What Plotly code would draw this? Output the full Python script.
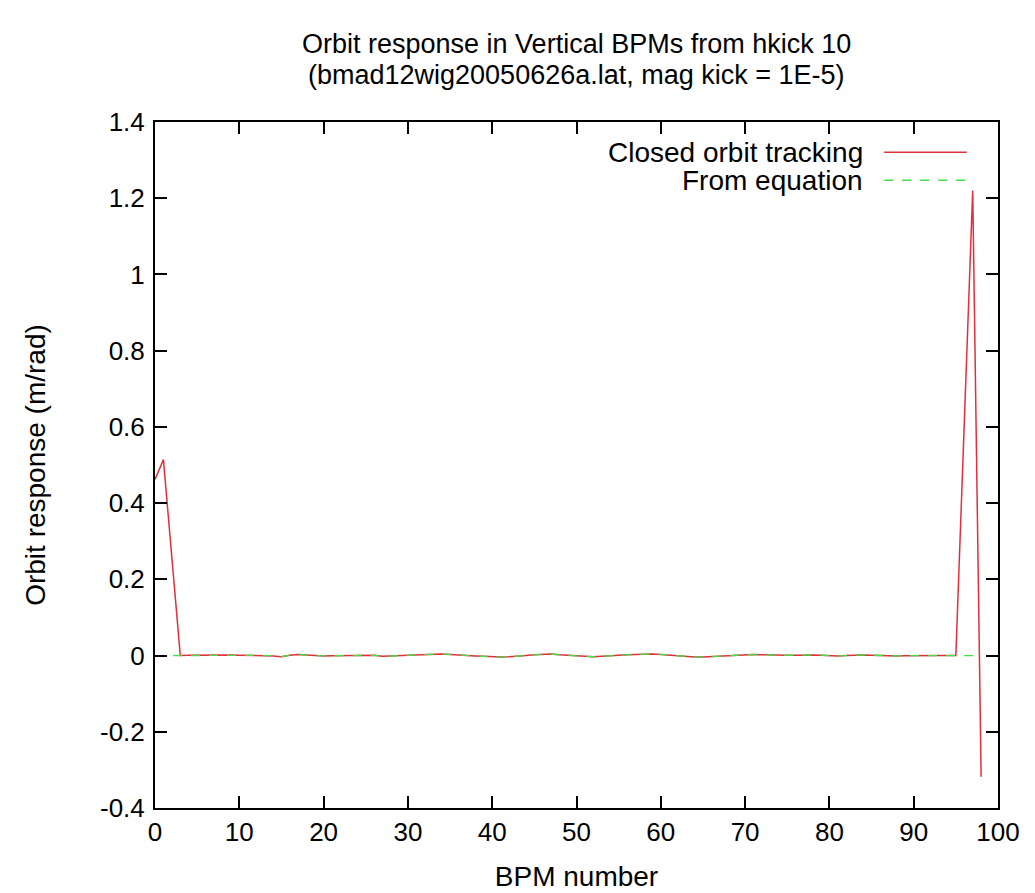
import plotly.graph_objects as go

bpm = list(range(0, 99))

closed_orbit = [
    0.462, 0.514, 0.257, 0.0, 0.0005, 0.001, 0.0, 0.0005, 0.001, 0.0015,
    0.001, 0.0005, 0.0, 0.0005, -0.001, -0.003, 0.001, 0.003, 0.0015, 0.0,
    -0.001, -0.0005, 0.0, 0.0005, 0.001, 0.0015, 0.0005, -0.002, -0.001, 0.0005,
    0.001, 0.002, 0.003, 0.004, 0.004, 0.003, 0.001, 0.0, -0.001, -0.002,
    -0.003, -0.004, -0.003, -0.002, 0.0, 0.002, 0.003, 0.004, 0.002, 0.001,
    0.0, -0.002, -0.003, -0.002, 0.0, 0.001, 0.002, 0.003, 0.004, 0.004,
    0.003, 0.001, -0.001, -0.003, -0.004, -0.004, -0.003, -0.002, 0.0, 0.001,
    0.002, 0.003, 0.002, 0.001, 0.0, 0.0005, 0.001, 0.002, 0.0015, 0.001,
    0.0, -0.001, 0.0, 0.001, 0.0015, 0.001, 0.0, -0.0005, -0.001, -0.0005,
    0.0, 0.0, 0.0, 0.0, 0.0, 0.0, 0.61, 1.22, -0.318,
]

from_equation = [
    0.0, 0.0, 0.0, 0.0, 0.0005, 0.001, 0.0, 0.0005, 0.001, 0.0015,
    0.001, 0.0005, 0.0, 0.0005, -0.001, -0.003, 0.001, 0.003, 0.0015, 0.0,
    -0.001, -0.0005, 0.0, 0.0005, 0.001, 0.0015, 0.0005, -0.002, -0.001, 0.0005,
    0.001, 0.002, 0.003, 0.004, 0.004, 0.003, 0.001, 0.0, -0.001, -0.002,
    -0.003, -0.004, -0.003, -0.002, 0.0, 0.002, 0.003, 0.004, 0.002, 0.001,
    0.0, -0.002, -0.003, -0.002, 0.0, 0.001, 0.002, 0.003, 0.004, 0.004,
    0.003, 0.001, -0.001, -0.003, -0.004, -0.004, -0.003, -0.002, 0.0, 0.001,
    0.002, 0.003, 0.002, 0.001, 0.0, 0.0005, 0.001, 0.002, 0.0015, 0.001,
    0.0, -0.001, 0.0, 0.001, 0.0015, 0.001, 0.0, -0.0005, -0.001, -0.0005,
    0.0, 0.0, 0.0, 0.0, 0.0, 0.0, 0.0, 0.0, 0.0,
]

legend_labels = ["Closed orbit tracking", "From equation"]
title_lines = ["Orbit response in Vertical BPMs from hkick 10",
               "(bmad12wig20050626a.lat, mag kick = 1E-5)"]
x_ticks = [0, 10, 20, 30, 40, 50, 60, 70, 80, 90, 100]
y_ticks = [-0.4, -0.2, 0, 0.2, 0.4, 0.6, 0.8, 1, 1.2, 1.4]
y_tick_text = ["-0.4", "-0.2", "0", "0.2", "0.4", "0.6", "0.8", "1", "1.2", "1.4"]

RED = "#e0303c"
GREEN = "#44dd44"
FONT = "Liberation Sans"
FS = 28
TITLE_FS = 27
TICK_FS = 26

fig = go.Figure()
fig.add_trace(go.Scatter(x=bpm, y=closed_orbit, mode="lines", name=legend_labels[0],
                         line=dict(color=RED, width=1.5), showlegend=False))
fig.add_trace(go.Scatter(x=bpm, y=from_equation, mode="lines", name=legend_labels[1],
                         line=dict(color=GREEN, width=1.3, dash="dash"), showlegend=False))

axis_common = dict(showgrid=False, zeroline=False, ticks="inside", ticklen=12,
                   tickwidth=2, tickcolor="black", showline=True, linecolor="black",
                   linewidth=2, mirror="ticks",
                   tickfont=dict(family=FONT, size=TICK_FS, color="black"))

fig.update_xaxes(range=[0, 100], tickvals=x_ticks,
                 title=dict(text="BPM number", font=dict(family=FONT, size=FS, color="black"),
                            standoff=20),
                 **axis_common)
fig.update_yaxes(range=[-0.4, 1.4], tickvals=y_ticks, ticktext=y_tick_text,
                 ticklabelstandoff=3,
                 title=dict(text="Orbit response (m/rad)",
                            font=dict(family=FONT, size=FS, color="black"), standoff=46),
                 **axis_common)

# Two-line title with tight line spacing
for line, yy in zip(title_lines, [1.113, 1.068]):
    fig.add_annotation(x=0.5, y=yy, xref="paper", yref="paper", text=line,
                       showarrow=False, xanchor="center", yanchor="middle",
                       font=dict(family=FONT, size=TITLE_FS, color="black"))

# Legend drawn gnuplot-style (text right-aligned, sample to its right)
legend_rows = [(legend_labels[0], RED, "solid", 0.956), (legend_labels[1], GREEN, "dash", 0.915)]
for label, color, dash, yy in legend_rows:
    fig.add_annotation(x=0.842, y=yy, xref="paper", yref="paper", text=label,
                       showarrow=False, xanchor="right", yanchor="middle",
                       font=dict(family=FONT, size=FS, color="black"))
    fig.add_shape(type="line", xref="paper", yref="paper", x0=0.865, x1=0.963,
                  y0=yy, y1=yy, line=dict(color=color, width=1.5, dash=dash))

fig.update_layout(
    width=1035, height=893,
    margin=dict(l=147, r=45, t=114, b=93),
    paper_bgcolor="white", plot_bgcolor="white",
)

fig.write_html("out.html")
